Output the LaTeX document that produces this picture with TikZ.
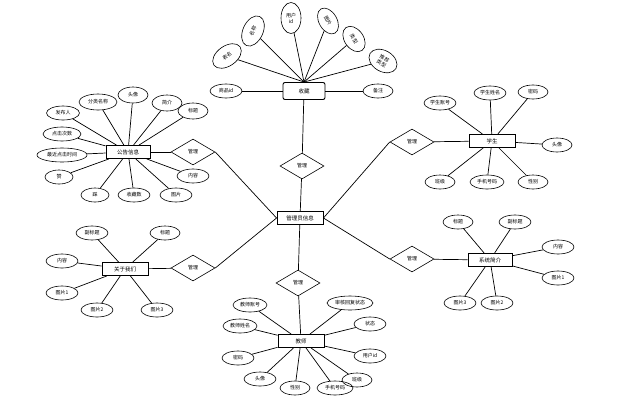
\documentclass[tikz,border=0pt]{standalone}
\usepackage{fontspec}
\setmainfont{Noto Sans CJK SC}
\usetikzlibrary{shapes.geometric}
\begin{document}
\begin{tikzpicture}[x=1pt,y=-1pt,
  attr/.style={draw,ellipse,line width=0.6pt,minimum width=32pt,minimum height=14pt,inner sep=0pt,font=\fontsize{5}{6}\selectfont},
  ent/.style={draw,rectangle,line width=0.9pt,minimum width=46pt,minimum height=13pt,inner sep=0pt,font=\fontsize{5.5}{6}\selectfont},
  rel/.style={draw,diamond,line width=0.6pt,minimum width=44pt,minimum height=26pt,inner sep=0pt,font=\fontsize{5}{6}\selectfont},
  link/.style={line width=0.7pt}]
\useasboundingbox (0,0) rectangle (632,402);

% central
\node[ent] (admin) at (300,218) {管理员信息};
\node[rel] (r1) at (302,166) {管理};
\node[rel] (r2) at (193,152) {管理};
\node[rel] (r3) at (193,268) {管理};
\node[rel] (r4) at (412,142) {管理};
\node[rel] (r5) at (412,259) {管理};
\node[rel] (r6) at (298,283) {管理};

% 收藏
\node[ent,rounded corners=2pt,minimum width=42pt,minimum height=17pt] (sc) at (304,91) {收藏};
\node[attr] (sc1) at (226,91) {商品id};
\node[attr,minimum width=30pt] (sc2) at (378,91) {备注};
\node[attr,rotate=35,minimum width=32pt,minimum height=20pt] (sc3) at (227,56) {表名};
\node[attr,rotate=65,minimum width=32pt,minimum height=20pt] (sc4) at (253,31) {名称};
\node[attr,minimum width=20pt,minimum height=31pt,align=center] (sc5) at (291,18) {用户\\id};
\node[attr,rotate=-60,minimum width=28pt,minimum height=18pt] (sc6) at (328,21) {图片};
\node[attr,rotate=-55,minimum width=28pt,minimum height=19pt] (sc7) at (354,39) {类型};
\node[attr,rotate=-30,minimum width=30pt,minimum height=21pt,align=center] (sc8) at (383,61) {推荐\\类型};
\foreach \i in {3,...,8} \draw[link] (sc\i) -- (sc.north);
\draw[link] (sc1) -- (sc);
\draw[link] (sc2) -- (sc);
\draw[link] (sc) -- (r1);
\draw[link] (r1) -- (admin);

% 公告信息
\node[ent,minimum width=44pt] (gg) at (128,152) {公告信息};
\node[attr,minimum width=38pt,minimum height=16pt] (gg1) at (98,102) {分类名称};
\node[attr,minimum width=30pt,minimum height=16pt] (gg2) at (133,95) {头像};
\node[attr,minimum width=30pt,minimum height=16pt] (gg3) at (167,103) {简介};
\node[attr,minimum width=30pt,minimum height=16pt] (gg4) at (193,111) {标题};
\node[attr,minimum width=33pt] (gg5) at (63,113) {发布人};
\node[attr,minimum width=38pt] (gg6) at (62,134) {点击次数};
\node[attr,minimum width=50pt] (gg7) at (62,155) {最近点击时间};
\node[attr,minimum width=28pt] (gg8) at (59,177) {赞};
\node[attr,minimum width=28pt] (gg9) at (95,195) {踩};
\node[attr,minimum width=32pt] (gg10) at (134,195) {收藏数};
\node[attr,minimum width=32pt] (gg11) at (176,195) {图片};
\node[attr,minimum width=32pt] (gg12) at (193,176) {内容};
\foreach \i in {1,...,12} \draw[link] (gg\i) -- (gg);
\draw[link] (gg) -- (r2);
\draw[link] (r2.east) -- (admin.west);

% 学生
\node[ent] (xs) at (492,141) {学生};
\node[attr,minimum width=32pt] (xs1) at (440,103) {学生账号};
\node[attr,minimum width=32pt] (xs2) at (490,93) {学生姓名};
\node[attr,minimum width=30pt] (xs3) at (533,92) {密码};
\node[attr,minimum width=30pt] (xs4) at (557,145) {头像};
\node[attr,minimum width=30pt] (xs5) at (440,182) {班级};
\node[attr,minimum width=34pt] (xs6) at (487,182) {手机号码};
\node[attr,minimum width=30pt] (xs7) at (533,182) {性别};
\foreach \i in {1,...,7} \draw[link] (xs\i) -- (xs);
\draw[link] (xs) -- (r4);
\draw[link] (r4.west) -- (admin.east);

% 关于我们
\node[ent] (gy) at (125,269) {关于我们};
\node[attr] (gy1) at (92,233) {副标题};
\node[attr,minimum width=30pt] (gy2) at (165,233) {标题};
\node[attr,minimum width=32pt] (gy3) at (62,261) {内容};
\node[attr,minimum width=32pt] (gy4) at (62,293) {图片1};
\node[attr,minimum width=32pt] (gy5) at (97,310) {图片2};
\node[attr,minimum width=32pt] (gy6) at (157,310) {图片3};
\foreach \i in {1,...,6} \draw[link] (gy\i) -- (gy);
\draw[link] (gy) -- (r3);
\draw[link] (r3.east) -- (admin.west);

% 系统简介
\node[ent,minimum width=44pt] (xt) at (490,260) {系统简介};
\node[attr,minimum width=30pt] (xt1) at (458,222) {标题};
\node[attr,minimum width=32pt] (xt2) at (515,222) {副标题};
\node[attr,minimum width=32pt] (xt3) at (558,247) {内容};
\node[attr,minimum width=32pt] (xt4) at (558,278) {图片1};
\node[attr,minimum width=32pt] (xt5) at (460,303) {图片3};
\node[attr,minimum width=32pt] (xt6) at (497,303) {图片2};
\foreach \i in {1,...,6} \draw[link] (xt\i) -- (xt);
\draw[link] (xt) -- (r5);
\draw[link] (r5.west) -- (admin.east);

% 教师
\node[ent] (js) at (301,341) {教师};
\node[attr,minimum width=34pt] (js1) at (250,305) {教师账号};
\node[attr,minimum width=34pt] (js2) at (240,326) {教师姓名};
\node[attr,minimum width=32pt] (js3) at (238,358) {密码};
\node[attr,minimum width=32pt] (js4) at (260,379) {头像};
\node[attr,minimum width=30pt] (js5) at (295,388) {性别};
\node[attr,minimum width=36pt] (js6) at (335,388) {手机号码};
\node[attr,minimum width=30pt] (js7) at (357,380) {班级};
\node[attr,minimum width=32pt] (js8) at (370,356) {用户id};
\node[attr,minimum width=32pt] (js9) at (370,324) {状态};
\node[attr,minimum width=46pt] (js10) at (350,303) {审核回复状态};
\foreach \i in {1,...,10} \draw[link] (js\i) -- (js);
\draw[link] (admin) -- (r6);
\draw[link] (r6) -- (js);
\end{tikzpicture}
\end{document}
